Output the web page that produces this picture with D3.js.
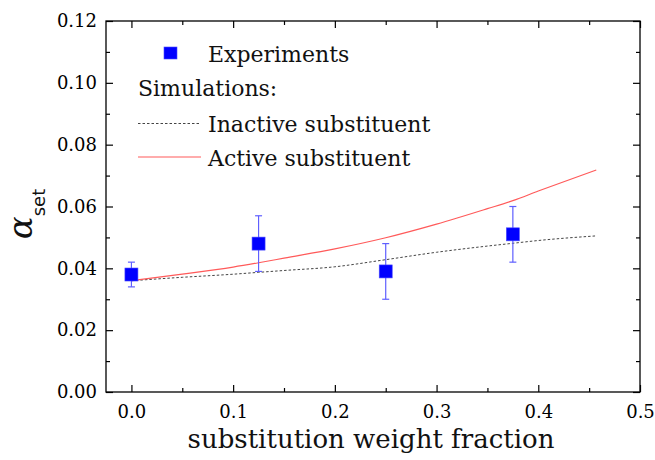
<!DOCTYPE html>
<html>
<head>
<meta charset="utf-8">
<script src="https://cdn.jsdelivr.net/npm/d3@7"></script>
<style>
  body { margin: 0; background: #fff; }
  svg { display: block; }
</style>
</head>
<body>
<svg id="chart" width="655" height="460"></svg>
<script>
// experiments (mean +/- error)
var expX = [0.0, 0.125, 0.25, 0.375];
var expY = [0.038, 0.048, 0.039, 0.051];
var expErr = [0.004, 0.009, 0.009, 0.009];

// simulations
var simX = [0.0, 0.05, 0.1, 0.125, 0.15, 0.2, 0.25, 0.3, 0.35, 0.375, 0.4, 0.457];
var inactiveY = [0.036, 0.0371, 0.0381, 0.0387, 0.0393, 0.0405, 0.0428, 0.0452, 0.0472, 0.0481, 0.049, 0.0505];
var activeY = [0.036, 0.0381, 0.0404, 0.0418, 0.0433, 0.0463, 0.0499, 0.0543, 0.0593, 0.0619, 0.065, 0.0718];

var xTicks = [0.0, 0.1, 0.2, 0.3, 0.4, 0.5];
var xMinor = [0.05, 0.15, 0.25, 0.35, 0.45];
var yTicks = [0.00, 0.02, 0.04, 0.06, 0.08, 0.10, 0.12];
var yMinor = [0.01, 0.03, 0.05, 0.07, 0.09, 0.11];

var svg = d3.select("#chart"),
    pLeft = 106, pRight = 640, pTop = 21, pBottom = 392,
    serif = "'DejaVu Serif', serif",
    sans = "'DejaVu Sans', sans-serif";

var x = d3.scaleLinear().domain([-0.025, 0.5]).range([pLeft, pRight]),
    y = d3.scaleLinear().domain([0, 0.12]).range([pBottom, pTop]);

function addAxis(gen, scale, ticks, size, pos, fmt) {
  var g = svg.append("g").attr("transform", pos)
     .call(gen(scale).tickValues(ticks).tickSize(size).tickPadding(9)
       .tickFormat(fmt ? d3.format(fmt) : ""));
  g.select(".domain").remove();
  g.selectAll(".tick line").attr("stroke", "#000").attr("stroke-width", 1.2);
  g.selectAll(".tick text").attr("font-family", serif).attr("font-size", "18px").attr("fill", "#000");
  return g;
}

// ticks pointing inward on all four sides
addAxis(d3.axisBottom, x, xTicks, -7, "translate(0," + pBottom + ")", ".1f")
  .selectAll(".tick text").attr("dy", "0.95em");
addAxis(d3.axisBottom, x, xMinor, -4, "translate(0," + pBottom + ")", null);
addAxis(d3.axisTop, x, xTicks, -7, "translate(0," + pTop + ")", null);
addAxis(d3.axisTop, x, xMinor, -4, "translate(0," + pTop + ")", null);
addAxis(d3.axisLeft, y, yTicks, -7, "translate(" + pLeft + ",0)", ".2f");
addAxis(d3.axisLeft, y, yMinor, -4, "translate(" + pLeft + ",0)", null);
addAxis(d3.axisRight, y, yTicks, -7, "translate(" + pRight + ",0)", null);
addAxis(d3.axisRight, y, yMinor, -4, "translate(" + pRight + ",0)", null);

svg.append("rect")
   .attr("x", pLeft).attr("y", pTop)
   .attr("width", pRight - pLeft).attr("height", pBottom - pTop)
   .attr("fill", "none").attr("stroke", "#000").attr("stroke-width", 1.3);

// simulation lines
var inactivePts = simX.map(function(d, i) { return [d, inactiveY[i]]; }),
    activePts = simX.map(function(d, i) { return [d, activeY[i]]; });

var line = d3.line().x(function(d) { return x(d[0]); }).y(function(d) { return y(d[1]); })
             .curve(d3.curveMonotoneX);

svg.append("path").datum(inactivePts)
   .attr("d", line).attr("fill", "none")
   .attr("stroke", "#444").attr("stroke-width", 1).attr("stroke-dasharray", "2.5,2");

svg.append("path").datum(activePts)
   .attr("d", line).attr("fill", "none")
   .attr("stroke", "#ff5a5a").attr("stroke-width", 1.2);

// experiments with error bars
var exp = expX.map(function(d, i) { return { x: d, y: expY[i], e: expErr[i] }; });

var eb = svg.append("g").attr("stroke", "#5f5fff").attr("stroke-width", 1.2);
eb.selectAll(".bar").data(exp).enter().append("line")
  .attr("x1", function(d) { return x(d.x); }).attr("x2", function(d) { return x(d.x); })
  .attr("y1", function(d) { return y(d.y - d.e); }).attr("y2", function(d) { return y(d.y + d.e); });
eb.selectAll(".capT").data(exp).enter().append("line")
  .attr("x1", function(d) { return x(d.x) - 3.5; }).attr("x2", function(d) { return x(d.x) + 3.5; })
  .attr("y1", function(d) { return y(d.y + d.e); }).attr("y2", function(d) { return y(d.y + d.e); });
eb.selectAll(".capB").data(exp).enter().append("line")
  .attr("x1", function(d) { return x(d.x) - 3.5; }).attr("x2", function(d) { return x(d.x) + 3.5; })
  .attr("y1", function(d) { return y(d.y - d.e); }).attr("y2", function(d) { return y(d.y - d.e); });

svg.selectAll(".pt").data(exp).enter().append("rect")
   .attr("class", "pt")
   .attr("x", function(d) { return x(d.x) - 6.5; })
   .attr("y", function(d) { return y(d.y) - 6.5; })
   .attr("width", 13).attr("height", 13)
   .attr("fill", "#0000ff").attr("stroke", "#4a4aff").attr("stroke-width", 0.6);

// legend
var lg = svg.append("g").attr("font-family", serif).attr("font-size", "22px").attr("fill", "#111");
lg.append("rect").attr("x", 164).attr("y", 47).attr("width", 13).attr("height", 12)
  .attr("fill", "#0000ff").attr("stroke", "#4a4aff").attr("stroke-width", 0.6);
lg.append("text").attr("x", 208).attr("y", 62).text("Experiments");
lg.append("text").attr("x", 138).attr("y", 96).text("Simulations:");
lg.append("line").attr("x1", 138).attr("x2", 201).attr("y1", 123.5).attr("y2", 123.5)
  .attr("stroke", "#444").attr("stroke-width", 1).attr("stroke-dasharray", "2.5,2");
lg.append("text").attr("x", 208).attr("y", 132).text("Inactive substituent");
lg.append("line").attr("x1", 138).attr("x2", 201).attr("y1", 157).attr("y2", 157)
  .attr("stroke", "#ff5a5a").attr("stroke-width", 1.2);
lg.append("text").attr("x", 208).attr("y", 166).text("Active substituent");

// axis titles
svg.append("text")
   .attr("x", 371).attr("y", 448)
   .attr("text-anchor", "middle")
   .attr("font-family", serif).attr("font-size", "26px").attr("fill", "#111")
   .text("substitution weight fraction");

var yt = svg.append("text")
   .attr("transform", "translate(32,214) rotate(-90)")
   .attr("text-anchor", "middle").attr("fill", "#111");
yt.append("tspan").attr("font-family", serif).attr("font-style", "italic")
  .attr("font-size", "34px").text("α");
yt.append("tspan").attr("font-family", sans).attr("font-size", "18px")
  .attr("dy", 13).text("set");
</script>
</body>
</html>
